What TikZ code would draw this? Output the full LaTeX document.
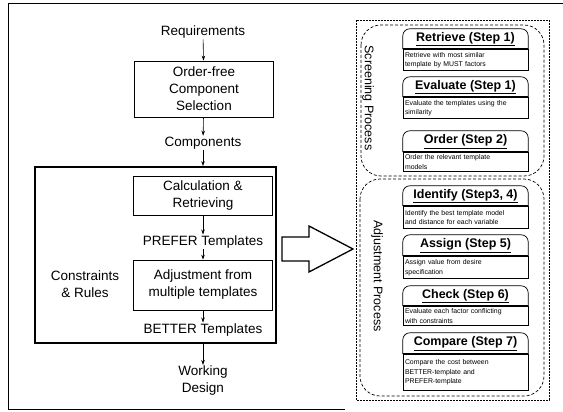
\documentclass[tikz,border=0pt]{standalone}
\usepackage{fontspec}
\setmainfont{Liberation Sans}
\usetikzlibrary{positioning,arrows.meta}

\begin{document}
\begin{tikzpicture}
  [x=1pt,y=-1pt,
   every node/.style={inner sep=1pt},
   lbl/.style={font=\fontsize{13.5}{17}\selectfont,align=center},
   proc/.style={lbl,draw,line width=0.7pt,minimum width=139pt},
   arr/.style={line width=0.6pt,-{Stealth[length=5pt,width=3.5pt]}},
   vlbl/.style={font=\fontsize{12.5}{14}\selectfont,rotate=-90},
   stephead/.style={font=\fontsize{12.5}{14}\selectfont\bfseries,minimum width=125pt,inner sep=0pt},
   stepbody/.style={draw,line width=0.7pt,font=\fontsize{6.9}{9.5}\selectfont,text width=121pt,align=left,inner sep=2pt},
   grp/.style={densely dashed,line width=0.7pt,rounded corners=20pt}]
  \useasboundingbox (0,0) rectangle (563,412);
  % outer frame
  \draw[line width=1pt] (345,409) -- (8,409) -- (8,4) -- (563,4);

  % left side: selection flow
  \node[lbl] (req) at (203,32) {Requirements};
  \node[proc,minimum height=56pt] (sel) at (204,89) {Order-free\\Component\\Selection};
  \node[lbl] (comp) at (203,143) {Components};
  \node[draw,line width=1.8pt,minimum width=241pt,minimum height=176pt] (frame) at (155.5,255) {};
  \node[proc,minimum height=39pt] (calc) at (203,195.5) {Calculation \&\\Retrieving};
  \node[lbl] (pref) at (203,242) {PREFER Templates};
  \node[proc,minimum height=50pt] (adjm) at (203,285) {Adjustment from\\multiple templates};
  \node[lbl] (cons) at (85,284) {Constraints\\\& Rules};
  \node[lbl] (bet) at (203,330) {BETTER Templates};
  \node[lbl] (work) at (203,381) {Working\\Design};

  \draw[arr] (req) -- (sel);
  \draw[arr] (sel) -- (comp);
  \draw[arr] (comp) -- (comp |- frame.north);
  \draw[arr] (calc) -- (pref);
  \draw[arr] (pref) -- (adjm);
  \draw[arr] (adjm) -- (bet);
  \draw[arr] (bet |- frame.south) -- (work);

  % big hollow arrow
  \draw[line width=1.3pt,line join=miter] (282,237) -- (309,237) -- (309,226) -- (353,249)
    -- (309,272) -- (309,261) -- (282,261) -- cycle;

  % right side: process steps
  \draw[dash pattern=on 2pt off 1pt,line width=0.6pt] (356,20) rectangle (549,400);
  \draw[grp] (361,25) rectangle (544,176);
  \draw[grp] (360,179) rectangle (544,396);
  \node[vlbl] (scr) at (368,98) {Screening Process};
  \node[vlbl] (adj) at (377,276) {Adjustment Process};

  \foreach \ytop/\ysep/\ybot/\hd/\bd [count=\k] in {
      29/49/70/{Retrieve (Step 1)}/{Retrieve with most similar\\template by MUST factors},
      77/97/118/{Evaluate (Step 1)}/{Evaluate the templates using the\\similarity},
      131/152/171/{Order (Step 2)}/{Order the relevant template\\models},
      186/206/228/{Identify (Step3, 4)}/{Identify the best template model\\and distance for each variable},
      235/256/278/{Assign (Step 5)}/{Assign value from desire\\specification},
      286/306/324/{Check (Step 6)}/{Evaluate each factor conflicting\\with constraints},
      333/354/390/{Compare (Step 7)}/{Compare the cost between\\BETTER-template and\\PREFER-template}}
  {
    \node[stephead,minimum height={(\ysep-\ytop)*1pt}] (h\k) at (465.5,{(\ytop+\ysep)/2}) {\underline{\hd}};
    \node[stepbody,minimum height={(\ybot-\ysep)*1pt},below=0pt of h\k] (b\k) {\bd};
    \draw[line width=0.7pt,rounded corners=7pt] (h\k.south west) |- (h\k.north east) -- (h\k.south east);
    \draw[line width=1.6pt] (h\k.south west) -- (h\k.south east);
  }
\end{tikzpicture}
\end{document}
